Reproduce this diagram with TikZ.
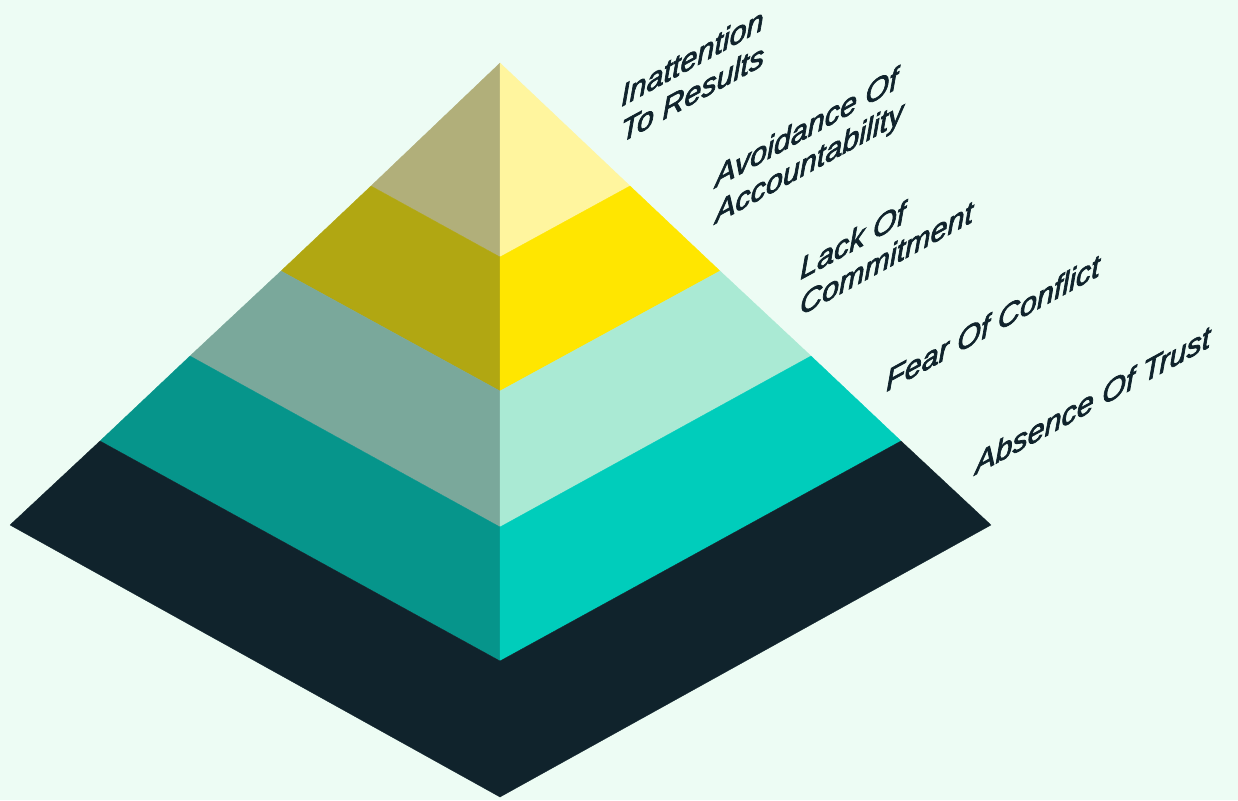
\documentclass[tikz,border=0pt]{standalone}
\usepackage{fontspec}
\newfontfamily\labelfont[FakeBold=2.5]{Liberation Sans}
\definecolor{bgmint}{HTML}{EDFCF4}
\definecolor{ink}{HTML}{10232C}
\definecolor{topL}{HTML}{B1AF7A}
\definecolor{topR}{HTML}{FFF59E}
\definecolor{secL}{HTML}{B1A712}
\definecolor{secR}{HTML}{FFE600}
\definecolor{midL}{HTML}{7AA89B}
\definecolor{midR}{HTML}{AAEAD4}
\definecolor{lowL}{HTML}{06958B}
\definecolor{lowR}{HTML}{00CDBB}
\definecolor{baseC}{HTML}{10232C}
\newcommand\twolines[2]{\vtop{\hbox{#1}\hbox{#2}}}
\tikzset{
  face/.style={fill=#1, draw=#1, line width=0.3pt, line join=round},
  tierlabel/.style={font=\labelfont\itshape\fontsize{30.5}{36}\selectfont,
    text=ink, inner sep=0pt, anchor=base west, transform shape},
}
\begin{document}
\begin{tikzpicture}[x=1pt,y=-1pt]
% background and page frame
\fill[bgmint] (0,0) rectangle (1238,800);
\useasboundingbox (0,0) rectangle (1238,800);

% pyramid corner points: apex, left rim, right rim, front ridge
\coordinate (A)  at (500,63);
\coordinate (L1) at (371,186);
\coordinate (L2) at (281,271);
\coordinate (L3) at (190,356);
\coordinate (L4) at (100,441);
\coordinate (L5) at (10,525);
\coordinate (R1) at (630,186);
\coordinate (R2) at (720,271);
\coordinate (R3) at (811,356);
\coordinate (R4) at (901,441);
\coordinate (R5) at (991,525);
\coordinate (C1) at (500,257);
\coordinate (C2) at (500,391);
\coordinate (C3) at (500,527);
\coordinate (C4) at (500,661);
\coordinate (C5) at (500,797);

% tier 5 (top)
\filldraw[face=topL] (A) -- (L1) -- (C1) -- cycle;
\filldraw[face=topR] (A) -- (R1) -- (C1) -- cycle;
% tier 4
\filldraw[face=secL] (L1) -- (L2) -- (C2) -- (C1) -- cycle;
\filldraw[face=secR] (R1) -- (R2) -- (C2) -- (C1) -- cycle;
% tier 3
\filldraw[face=midL] (L2) -- (L3) -- (C3) -- (C2) -- cycle;
\filldraw[face=midR] (R2) -- (R3) -- (C3) -- (C2) -- cycle;
% tier 2
\filldraw[face=lowL] (L3) -- (L4) -- (C4) -- (C3) -- cycle;
\filldraw[face=lowR] (R3) -- (R4) -- (C4) -- (C3) -- cycle;
% tier 1 (base)
\filldraw[face=baseC] (L4) -- (L5) -- (C5) -- (C4) -- cycle;
\filldraw[face=baseC] (R4) -- (R5) -- (C5) -- (C4) -- cycle;

% slanted tier labels
\begin{scope}[shift={(621,107)}, yslant=0.546]
  \node[tierlabel] (lab5) at (0,0) {\twolines{Inattention}{To Results}};
\end{scope}
\begin{scope}[shift={(715,188)}, yslant=0.546]
  \node[tierlabel] (lab4) at (0,0) {\twolines{Avoidance Of}{Accountability}};
\end{scope}
\begin{scope}[shift={(800,280)}, yslant=0.546]
  \node[tierlabel] (lab3) at (0,0) {\twolines{Lack Of}{Commitment}};
\end{scope}
\begin{scope}[shift={(886,392)}, yslant=0.546]
  \node[tierlabel] (lab2) at (0,0) {Fear Of Conflict};
\end{scope}
\begin{scope}[shift={(975,475)}, yslant=0.546]
  \node[tierlabel] (lab1) at (0,0) {Absence Of Trust};
\end{scope}
\end{tikzpicture}
\end{document}
